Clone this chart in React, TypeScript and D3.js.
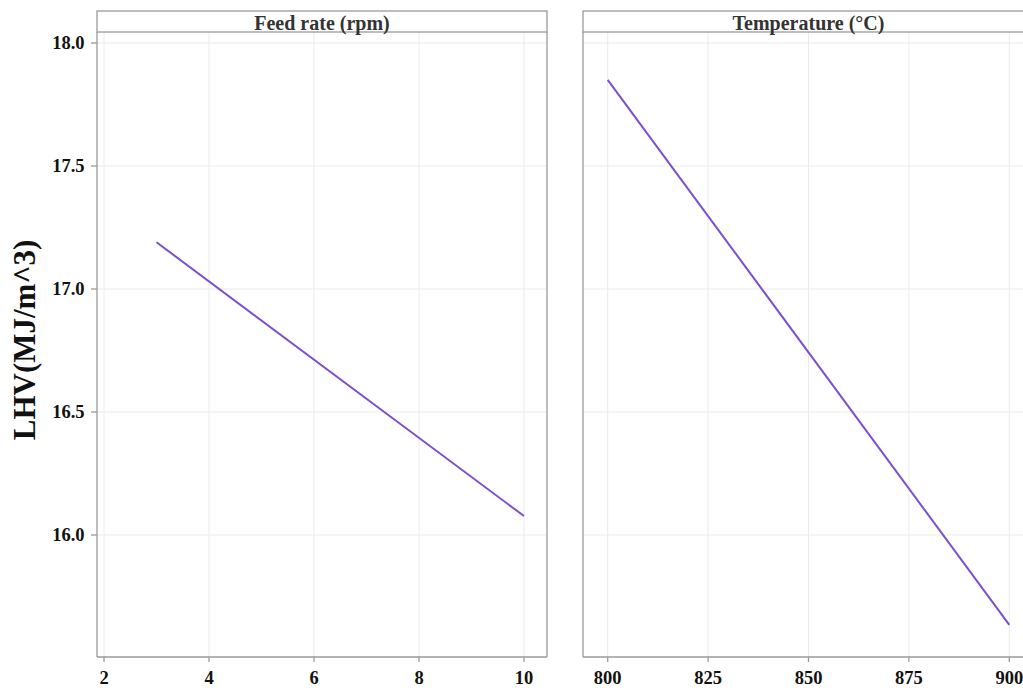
import React from "react";
import * as d3 from "d3";

const feedRate = [3, 10];
const feedLHV = [17.19, 16.077];
const temperature = [800, 900];
const tempLHV = [17.85, 15.635];
const yTicks = [16.0, 16.5, 17.0, 17.5, 18.0];
const feedTicks = [2, 4, 6, 8, 10];
const tempTicks = [800, 825, 850, 875, 900];
const panelTitles = ["Feed rate (rpm)", "Temperature (°C)"];
const yLabel = "LHV(MJ/m^3)";

const W = 1023;
const H = 688;
const top = 32;
const bottom = 657;
const stripTop = 11;
const font = "'Liberation Serif', 'Times New Roman', serif";
const border = "#9a9a9a";
const grid = "#ebebeb";
const lineColor = "#7b4fd0";

const y = d3.scaleLinear().domain([16.0, 18.0]).range([535, 43]);

type PanelProps = {
  x0: number;
  x1: number;
  xs: d3.ScaleLinear<number, number>;
  ticks: number[];
  xv: number[];
  yv: number[];
  title: string;
  showY: boolean;
  rightBorder: boolean;
};

function Panel({ x0, x1, xs, ticks, xv, yv, title, showY, rightBorder }: PanelProps) {
  const line = d3
    .line<number>()
    .x((_, i) => xs(xv[i]))
    .y((d) => y(d));
  return (
    <g>
      {yTicks.map((t) => (
        <line key={"gy" + t} x1={x0} x2={x1} y1={y(t)} y2={y(t)} stroke={grid} strokeWidth={1} />
      ))}
      {ticks.map((t) => (
        <line key={"gx" + t} x1={xs(t)} x2={xs(t)} y1={top} y2={bottom} stroke={grid} strokeWidth={1} />
      ))}
      <path d={line(yv) || ""} fill="none" stroke={lineColor} strokeWidth={2} />
      {/* strip */}
      <rect x={x0} y={stripTop} width={x1 - x0} height={top - stripTop} fill="white" stroke={border} strokeWidth={1.3} />
      <text x={(x0 + x1) / 2} y={29.5} textAnchor="middle" fontFamily={font} fontWeight="bold" fontSize={20} fill="#333">
        {title}
      </text>
      {/* borders */}
      <line x1={x0} x2={x0} y1={top} y2={bottom} stroke={border} strokeWidth={1.3} />
      <line x1={x0} x2={x1} y1={bottom} y2={bottom} stroke={border} strokeWidth={1.3} />
      {rightBorder && <line x1={x1} x2={x1} y1={top} y2={bottom} stroke={border} strokeWidth={1.3} />}
      {/* x ticks */}
      {ticks.map((t) => (
        <g key={"xt" + t}>
          <line x1={xs(t)} x2={xs(t)} y1={bottom} y2={bottom + 5} stroke={border} strokeWidth={1.3} />
          <text x={xs(t)} y={683.5} textAnchor="middle" fontFamily={font} fontWeight="bold" fontSize={18.5} fill="#111">
            {t}
          </text>
        </g>
      ))}
      {showY &&
        yTicks.map((t) => (
          <g key={"yt" + t}>
            <line x1={x0 - 6} x2={x0} y1={y(t)} y2={y(t)} stroke={border} strokeWidth={1.3} />
            <text x={x0 - 12.5} y={y(t) + 6.3} textAnchor="end" fontFamily={font} fontWeight="bold" fontSize={18.5} fill="#111">
              {t.toFixed(1)}
            </text>
          </g>
        ))}
    </g>
  );
}

export default function App() {
  const xFeed = d3.scaleLinear().domain([2, 10]).range([104, 524]);
  const xTemp = d3.scaleLinear().domain([800, 900]).range([607.7, 1009.3]);
  return (
    <svg
      width={W}
      height={H}
      style={{ position: "absolute", left: 0, top: 0, background: "white" }}
    >
      <rect x={0} y={0} width={W} height={H} fill="white" />
      <Panel x0={97} x1={547} xs={xFeed} ticks={feedTicks} xv={feedRate} yv={feedLHV} title={panelTitles[0]} showY={true} rightBorder={true} />
      <Panel x0={583} x1={1034} xs={xTemp} ticks={tempTicks} xv={temperature} yv={tempLHV} title={panelTitles[1]} showY={false} rightBorder={false} />
      <text
        transform="translate(35,340) rotate(-90)"
        textAnchor="middle"
        fontFamily={font}
        fontWeight="bold"
        fontSize={31}
        fill="#111"
      >
        {yLabel}
      </text>
    </svg>
  );
}
